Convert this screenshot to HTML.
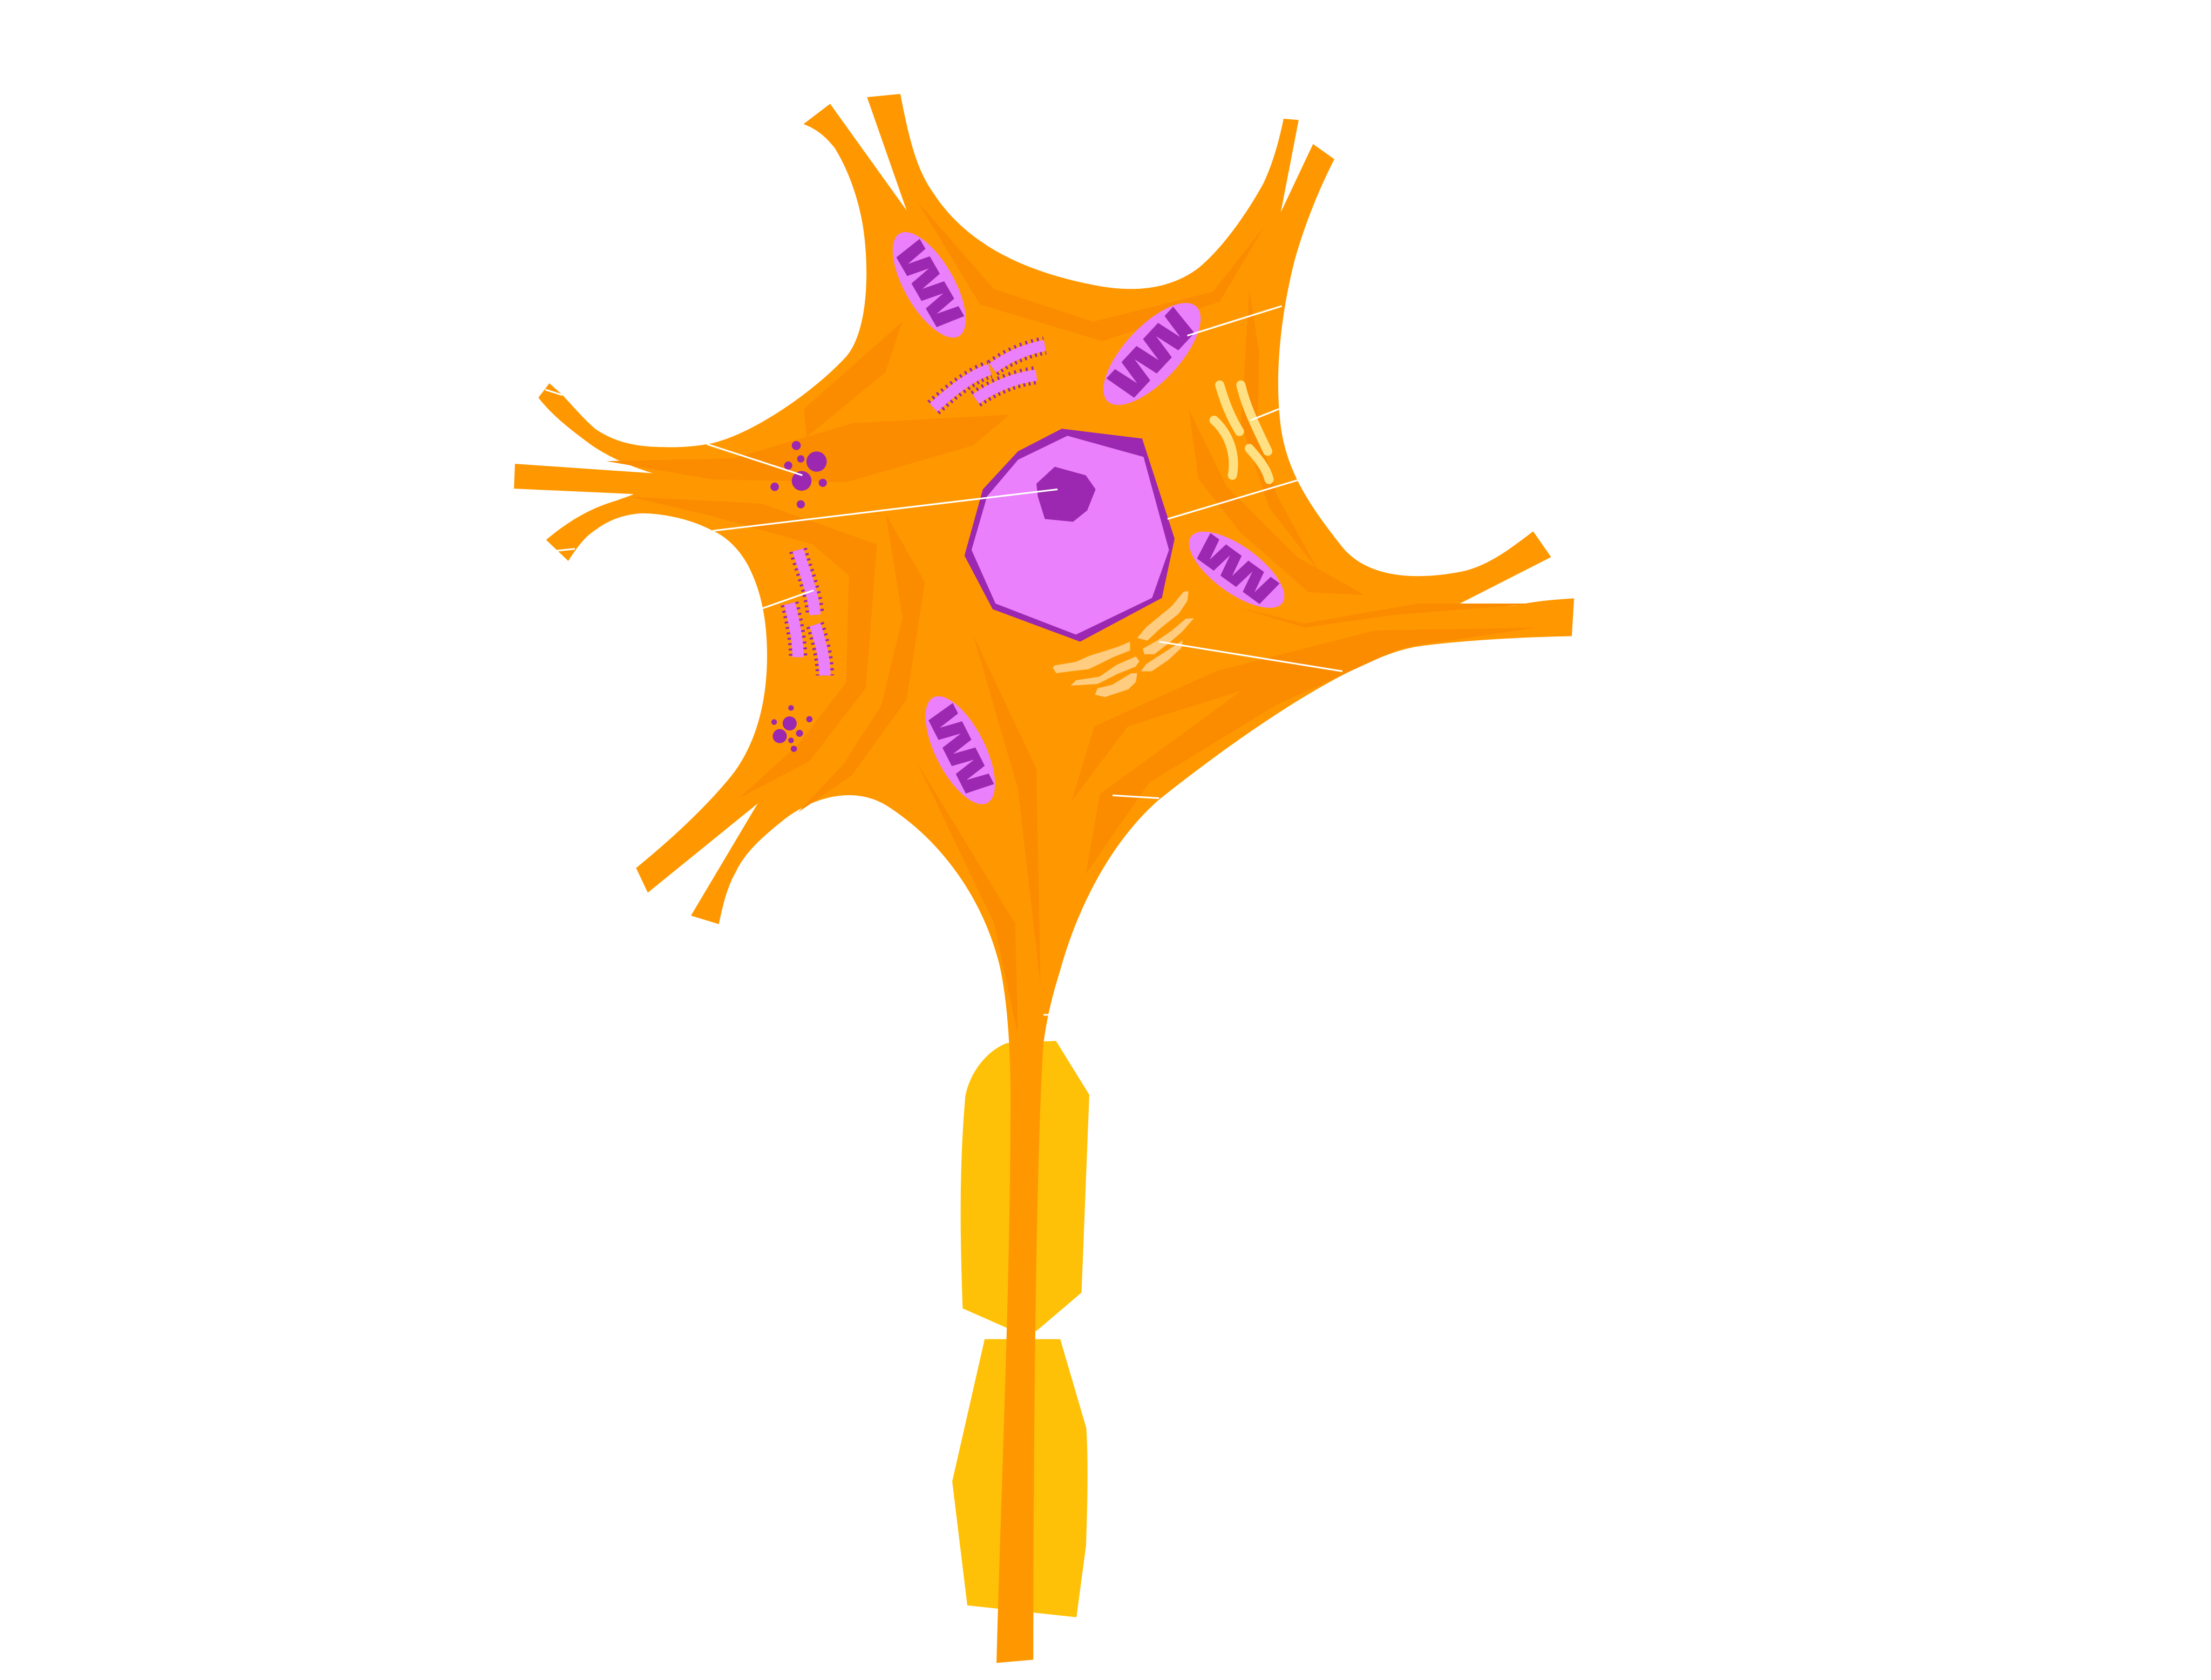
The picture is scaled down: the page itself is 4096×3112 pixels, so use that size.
<!DOCTYPE html>
<html><head><meta charset="utf-8"><style>html,body{margin:0;padding:0;background:#fff}svg{display:block}</style></head>
<body>
<svg width="4096" height="3112" viewBox="0 0 1568 1191.3" preserveAspectRatio="none" xmlns="http://www.w3.org/2000/svg">
<defs>
<polygon id="cr" points="-31,-11 -23,-11 -20,6 -17,-11 -3,-11 0,6 3,-11 17,-11 20,6 23,-11 31,-11 28,11 13,11 10,-6 7,11 -7,11 -10,-6 -13,11 -28,11"/>
</defs>
<rect width="1568" height="1191.3" fill="#fff"/>
<!-- myelin sheaths -->
<path d="M714,739.7 C700,745 688,760 684.6,777.2 C680,830 681,880 682.7,927.8 L715.3,942.2 L735,943.8 L767,916.6 L772.5,776.3 L748.9,738.1 Z" fill="#FFC107"/>
<path d="M698.3,949.6 L751.9,949.6 L770.4,1012.7 C772,1040 771,1070 770.2,1096 L763.4,1146.8 L686,1138.4 L675.3,1050.5 Z" fill="#FFC107"/>
<!-- body -->
<path fill="#FF9800" d="M569.8,88 L588.7,73.6 L643,149.3 L614.9,68.9 L638.5,66.6
C645,100 650,120 662,137 C690,180 740,195 775,202 C805,208 830,205 850,190 C868,175 885,150 896,130 C903,115 907,100 910.3,84.2
L921,85.1 L908.3,150.6 L931.2,102.1 L946.3,112.9
C935,135 925,160 918,185 C908,225 904,265 908,300 C912,335 930,360 952,388 C970,410 1005,412 1038.8,404.8 C1058,400 1075,386 1087.3,376.8
L1100,395 L1033.7,428.8 C1050,429.5 1065,430 1074.5,429.4 C1090,426 1105,425 1116.3,424.3 L1114.7,451.1
C1070,452 1030,455 1006.9,458.2 C970,463 900,505 822,567 C790,595 765,640 751.6,689 C745,710 742,725 740,740 C736,800 733,950 732.8,1176.9
L706.7,1179.2 C710,1050 717,900 716.6,769 C716,735 714,708 709,685 C698,640 670,598 630,572 C605,556 575,566 555,582 C540,594 528,605 522,618 C515,630 512,645 509.8,655.3
L490,649.3 L537.3,569.8 L459.4,633 L451.1,615.5
C475,596 500,573 518,551 C535,530 544,500 544,465 C544,435 538,415 530,400 C522,386 512,379 505.4,376.4 C490,368 470,364 455,364 C440,365 430,370 422,376 C414,381 408,390 403,397.8
L387.3,382.8 C405,368 420,360 437,355 C445,352 449,351 449,350.3 L364.5,346.5 L365.2,328.9 L463,335.6
C445,330 432,324 420,316 C405,305 392,295 381.8,282 L389.6,271.8
L398.8,280 C408,290 415,298 422,304 C435,313 450,317 471,317 C485,317.5 495,316 501.5,315 C530,310 575,280 600,253 C618,232 616,180 611,155 C607,135 600,118 592,105 C585,96 578,91 569.8,88 Z"/>
<!-- darker streaks -->
<g fill="#FB8C00">
<polygon points="650,142 705,205 775,228 860,207 897,160 865,214 782,242 695,216"/>
<polygon points="430,327 520,325 605,300 716,294 690,316 600,342 505,340"/>
<polygon points="570,290 640,228 628,264 572,310"/>
<polygon points="445,352 540,357 622,386 614,488 574,540 524,566 566,528 600,484 602,408 576,386 505,366"/>
<polygon points="628,364 656,413 643,496 604,550 566,576 598,542 625,500 640,438"/>
<polygon points="690,450 735,545 738,700 722,560"/>
<polygon points="650,540 720,655 722,735 705,655"/>
<polygon points="760,568 776,515 862,476 975,447 1090,445 1002,458 880,490 800,515"/>
<polygon points="780,563 880,490 1010,452 905,500 815,555 770,620"/>
<polygon points="843,290 850,340 880,378 928,420 968,422 920,395 870,345"/>
<polygon points="886,205 893,250 892,300 905,350 935,405 900,360 880,300"/>
<polygon points="875,430 925,442 1005,428 1090,428 990,436 925,445"/>
</g>
<!-- nucleus -->
<polygon points="753,304 810,311 833,382 824,424 766,455 704,432 684,394 697,347 722,320" fill="#9C27B0"/>
<polygon points="757,309 811,324 829,390 817,424 763,450 706,428 689,390 700,352 722,326" fill="#EA80FC"/>
<polygon points="748,331 770,337 777,347 771,362 761,370 741,368 736,352 735,343" fill="#9C27B0"/>
<!-- mitochondria -->
<g transform="translate(659,202) rotate(60)">
<ellipse rx="42" ry="17.5" fill="#EA80FC"/>
<use href="#cr" fill="#9C27B0" transform="scale(1.02,0.95)"/>
</g>
<g transform="translate(817,251) rotate(-47)">
<ellipse rx="46" ry="19.5" fill="#EA80FC"/>
<use href="#cr" fill="#9C27B0" transform="scale(1.12,1.08)"/>
</g>
<g transform="translate(877,404) rotate(36)">
<ellipse rx="40" ry="16.5" fill="#EA80FC"/>
<use href="#cr" fill="#9C27B0" transform="scale(0.98,0.92)"/>
</g>
<g transform="translate(681,532) rotate(63)">
<ellipse rx="42" ry="17.5" fill="#EA80FC"/>
<use href="#cr" fill="#9C27B0" transform="scale(1.04,0.95)"/>
</g>
<!-- rough ER -->
<g fill="none" stroke-linecap="butt">
<g stroke="#9C27B0" stroke-width="13" stroke-dasharray="1.4 2.6">
<path d="M662,289 C672,280 688,266 702,262"/>
<path d="M704,261 C716,252 730,247 741,245"/>
<path d="M692,283 C705,274 720,268 735,266"/>
<path d="M566,390 C570,405 577,420 578,436"/>
<path d="M560,428 C563,440 566,455 566,466"/>
<path d="M578,443 C582,455 585,468 585,479"/>
</g>
<g stroke="#EA80FC" stroke-width="8">
<path d="M662,289 C672,280 688,266 702,262"/>
<path d="M704,261 C716,252 730,247 741,245"/>
<path d="M692,283 C705,274 720,268 735,266"/>
<path d="M566,390 C570,405 577,420 578,436"/>
<path d="M560,428 C563,440 566,455 566,466"/>
<path d="M578,443 C582,455 585,468 585,479"/>
</g>
</g>
<!-- vesicles -->
<g fill="#9C27B0">
<circle cx="564.7" cy="315.9" r="3.2"/>
<circle cx="567.9" cy="325.4" r="2.6"/>
<circle cx="579.1" cy="327.3" r="7.2"/>
<circle cx="559" cy="330.1" r="2.9"/>
<circle cx="568.5" cy="341" r="7"/>
<circle cx="583.5" cy="342.4" r="2.9"/>
<circle cx="549.4" cy="345.2" r="3"/>
<circle cx="567.9" cy="357.6" r="2.9"/>
<circle cx="561" cy="502" r="2"/>
<circle cx="574" cy="510" r="2.2"/>
<circle cx="549" cy="512" r="2"/>
<circle cx="560" cy="513" r="5"/>
<circle cx="567" cy="520" r="2.5"/>
<circle cx="553" cy="522" r="5"/>
<circle cx="561" cy="525" r="2"/>
<circle cx="563" cy="531" r="2.2"/>
</g>
<!-- yellow rods -->
<g fill="none" stroke="#FFE082" stroke-width="6.5" stroke-linecap="round">
<path d="M865,273 C869,287 874,298 879,306"/>
<path d="M880,273 C884,290 892,305 899,320"/>
<path d="M861,298 C870,306 877,320 874,337"/>
<path d="M886,318 C893,326 898,332 900,340"/>
</g>
<!-- golgi -->
<g fill="#FFCC80">
<polygon points="806.5,452.4 813.6,454.3 823.1,445.4 835.9,435.2 842,426.2 842.9,419.2 839.5,419.5 830.8,430 812.9,444.7"/>
<polygon points="810.4,460 811.6,463.9 818.6,463.9 829.5,455.6 838.4,447.9 846.7,438.4 841,438.7 830.8,447.3 820.6,454.3"/>
<polygon points="809.1,476 816.7,476 828.2,468.3 837.8,459.4 838.7,454.1 825.7,462.6 812.9,470.9"/>
<polygon points="746.6,473.5 749.1,477.3 772.1,474.5 790,465.8 801.4,461.3 801.4,455 792.5,458.8 772.1,465.2 763.1,469.3 747.8,471.9"/>
<polygon points="759.3,486.2 778.4,485 792.5,477.9 805.2,472.8 808.1,469 805.5,465.5 791.9,471.5 779.7,479.8 763.1,482.4"/>
<polygon points="776.5,492.6 783.6,494.3 800.2,488.8 805.5,483.7 806.5,477.3 802.1,477.5 788.7,485.6 778.4,488.1"/>
</g>
<!-- leader lines -->
<g stroke="#fff" stroke-width="1.2" fill="none">
<line x1="842" y1="238" x2="909" y2="217"/>
<line x1="887" y1="298" x2="907" y2="290"/>
<line x1="828" y1="368" x2="922" y2="340"/>
<line x1="822" y1="455" x2="952" y2="476"/>
<line x1="789" y1="564" x2="822" y2="566"/>
<line x1="501.5" y1="315" x2="569" y2="337"/>
<line x1="505.4" y1="376.4" x2="750" y2="347"/>
<line x1="539" y1="432" x2="577" y2="418.6"/>
<line x1="386.7" y1="276.3" x2="398.8" y2="280.1"/>
<line x1="395" y1="390.5" x2="407.7" y2="389.2"/>
<line x1="740" y1="719.6" x2="747" y2="719.6"/>
</g>
</svg>
</body></html>
